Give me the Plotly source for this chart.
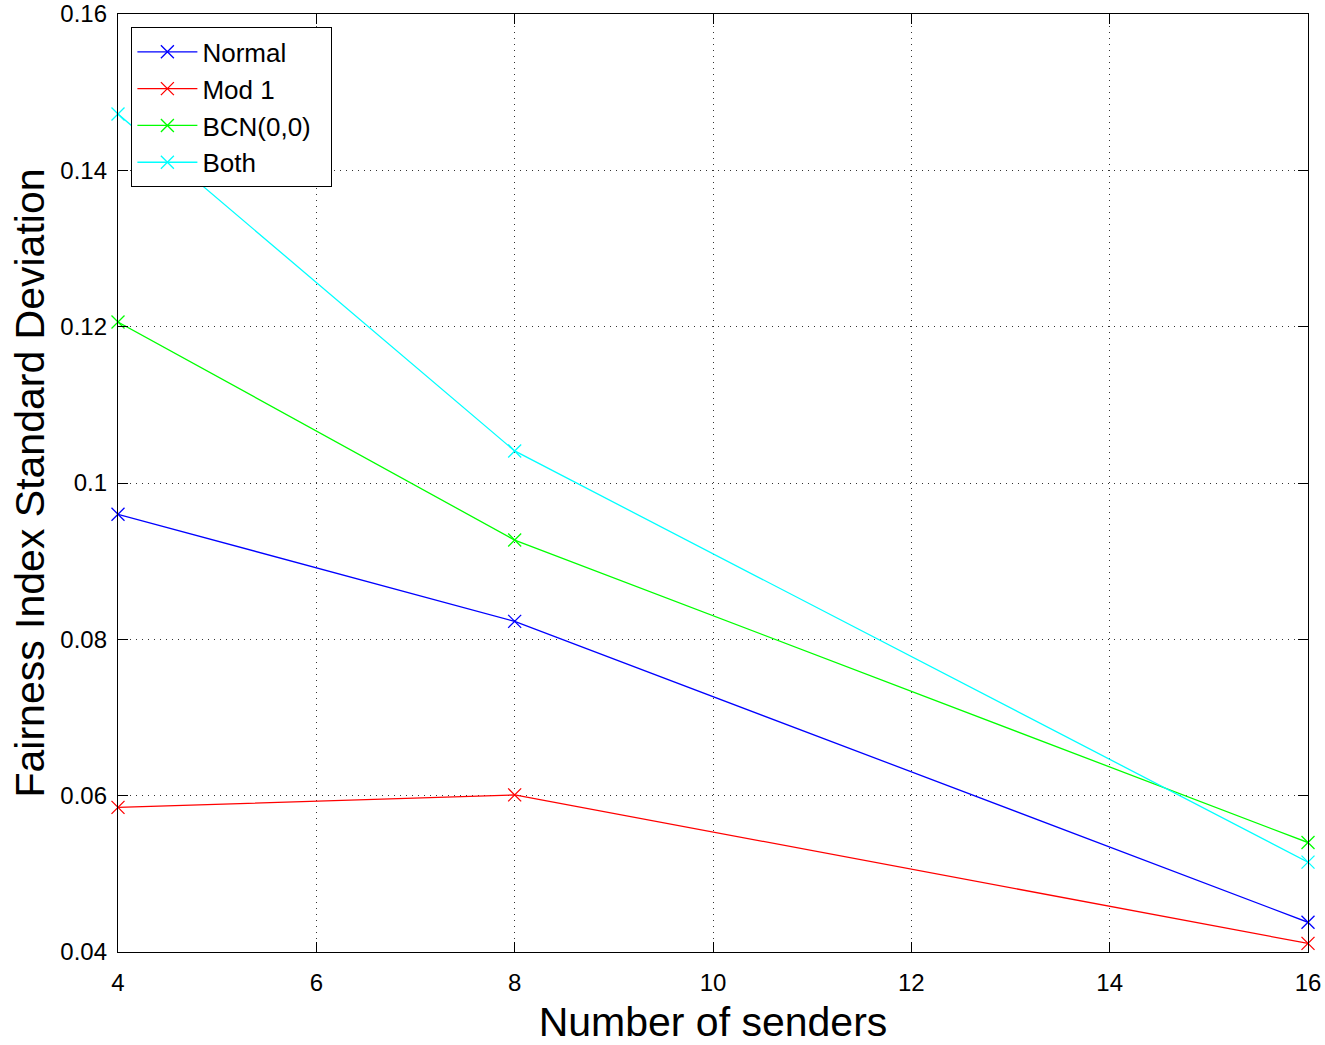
import plotly.graph_objects as go

senders = [4, 8, 16]
normal = [0.0960, 0.0823, 0.0438]
mod1 = [0.0585, 0.0601, 0.0411]
bcn = [0.1206, 0.0927, 0.0540]
both = [0.1472, 0.1041, 0.0515]

series = [("Normal", normal, "#0000ff"), ("Mod 1", mod1, "#ff0000"),
          ("BCN(0,0)", bcn, "#00ff00"), ("Both", both, "#00ffff")]

x_ticks = [4, 6, 8, 10, 12, 14, 16]
y_ticks = [0.04, 0.06, 0.08, 0.1, 0.12, 0.14, 0.16]
y_labels = ["0.04", "0.06", "0.08", "0.1", "0.12", "0.14", "0.16"]

fig = go.Figure()
for name, ys, col in series:
    fig.add_trace(go.Scatter(x=senders, y=ys, name=name + "  ", mode="lines+markers",
                             cliponaxis=False,
                             line=dict(color=col, width=1.3),
                             marker=dict(symbol="x-thin", size=13, line=dict(color=col, width=1.3))))

axis_common = dict(showline=True, linecolor="black", linewidth=1.3, mirror="ticks",
                   ticks="inside", ticklen=10, tickcolor="black", tickwidth=1.3,
                   showgrid=True, gridcolor="#333333", griddash="1px,5px", gridwidth=1.2,
                   zeroline=False, automargin=False,
                   tickfont=dict(family="Liberation Sans, Arial", size=24, color="black"))

fig.update_layout(
    width=1325, height=1045, plot_bgcolor="white", paper_bgcolor="white",
    margin=dict(l=118, r=17, t=14, b=93),
    font=dict(family="Liberation Sans, Arial", color="black"),
    xaxis=dict(range=[4, 16], tickvals=x_ticks, ticktext=[str(v) for v in x_ticks],
               ticklabelstandoff=9,
               title=dict(text="Number of senders", font=dict(size=41), standoff=13), **axis_common),
    yaxis=dict(range=[0.04, 0.16], tickvals=y_ticks, ticktext=y_labels,
               ticklabelstandoff=5,
               title=dict(text="Fairness Index Standard Deviation", font=dict(size=41), standoff=2), **axis_common),
    legend=dict(x=0.011, y=0.986, xanchor="left", yanchor="top", bgcolor="white",
                bordercolor="black", borderwidth=1.3, font=dict(size=26, color="black"),
                itemwidth=60, tracegroupgap=0),
    showlegend=True,
)
fig.write_html("out.html")
